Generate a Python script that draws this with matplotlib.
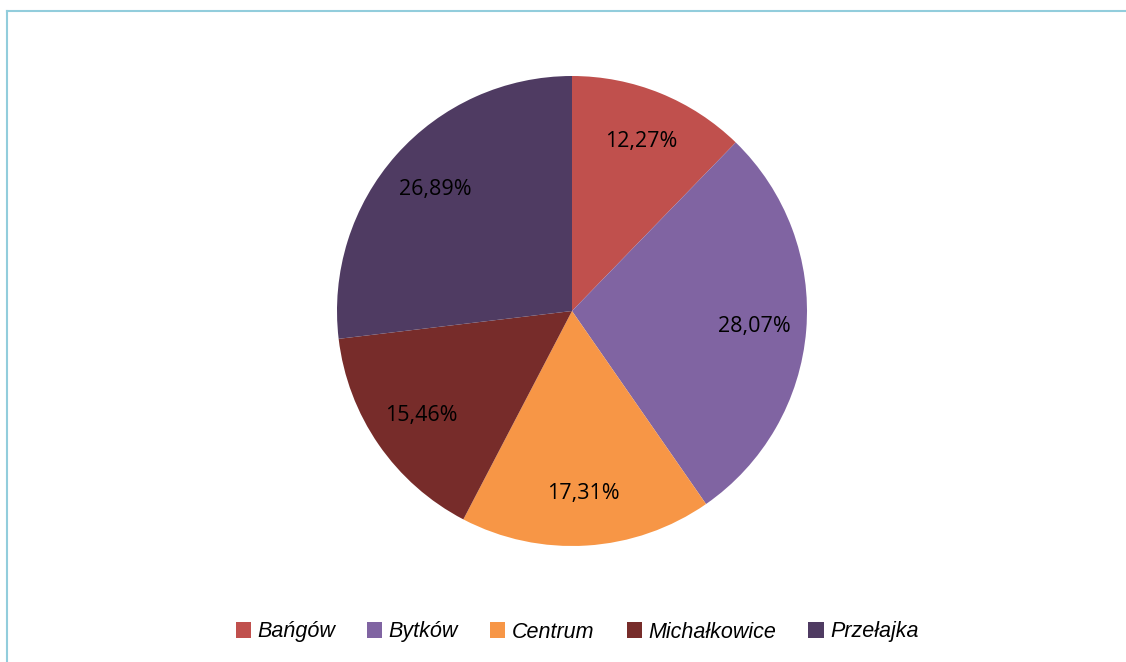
import matplotlib
matplotlib.use("Agg")
import matplotlib.pyplot as plt
from matplotlib.patches import Patch
from matplotlib.lines import Line2D

# data
districts = ['Bańgów', 'Bytków', 'Centrum', 'Michałkowice', 'Przełajka']
shares = [12.27, 28.07, 17.31, 15.46, 26.89]
colors = ['#C0504D', '#8064A2', '#F79646', '#772C2A', '#4F3B62']

fig = plt.figure(figsize=(11.26, 6.62), dpi=100)

# pie centre ~(572,311) px, radius ~235 px
cx, cy, r = 572, 311, 235
W, H = 1126, 662
ax = fig.add_axes([(cx - r) / W, 1 - (cy + r) / H, 2 * r / W, 2 * r / H])

wedges, texts, autotexts = ax.pie(
    shares, colors=colors, startangle=90, counterclock=False,
    autopct=lambda p: ('%.2f%%' % p).replace('.', ','),
    pctdistance=0.78,
    wedgeprops=dict(linewidth=0),
    textprops=dict(fontsize=15.5, family='Open Sans', color='black'))
ax.set_xlim(-1, 1)
ax.set_ylim(-1, 1)
ax.set_aspect('equal')

# frame lines (light blue, only left and top visible)
fig.add_artist(Line2D([6.5 / W, 6.5 / W], [0, 1 - 10.5 / H], color='#92CDDC', lw=1.5))
fig.add_artist(Line2D([6.5 / W, 1], [1 - 10.5 / H, 1 - 10.5 / H], color='#92CDDC', lw=1.5))

handles = [Patch(facecolor=c, edgecolor='none') for c in colors]
fig.legend(handles, districts, loc='center', bbox_to_anchor=(577 / W, 1 - 632 / H),
           ncol=5, frameon=False, handlelength=0.7, handleheight=0.7,
           handletextpad=0.3, columnspacing=1.5,
           prop=dict(family='Liberation Sans', style='italic', size=15.5))

fig.savefig('out.png', dpi=100)
